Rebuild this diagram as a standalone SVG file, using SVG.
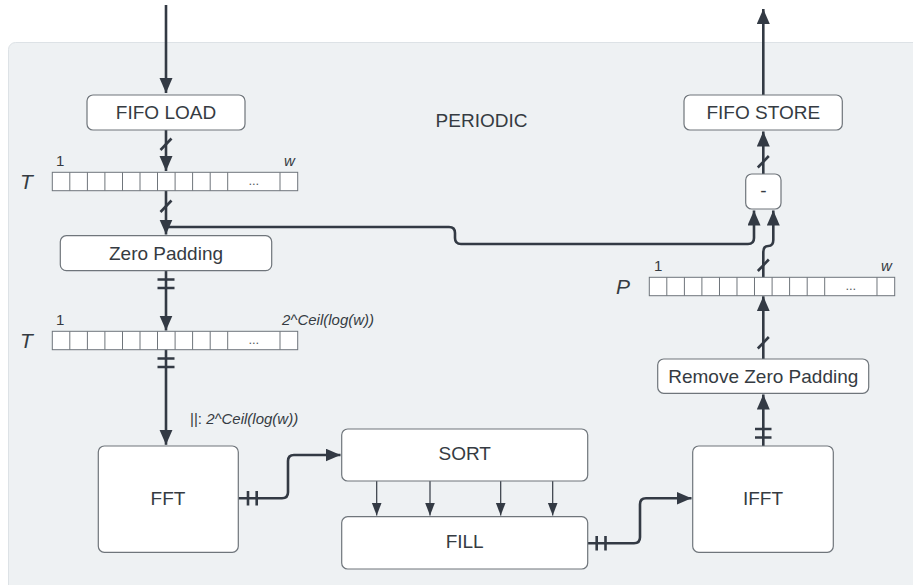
<svg xmlns="http://www.w3.org/2000/svg" width="913" height="585" viewBox="0 0 913 585">
<style>
.box{fill:#fff;stroke:#6f757b;stroke-width:1.2}
.lbl{font-family:"Liberation Sans",Arial,sans-serif;font-size:19px;fill:#353b42;text-anchor:middle;dominant-baseline:central}
.sm{font-family:"Liberation Sans",Arial,sans-serif;font-size:15px;fill:#353b42}
.it{font-style:italic}
.big{font-family:"Liberation Sans",Arial,sans-serif;font-size:21px;font-style:italic;fill:#353b42}
.con{fill:none;stroke:#333a44;stroke-width:2.6;stroke-linejoin:round}
.thin{fill:none;stroke:#333a44;stroke-width:1.2}
.tick{fill:none;stroke:#333a44;stroke-width:2.6}
.cell{fill:none;stroke:#6f757b;stroke-width:1}
</style>
<defs>
<marker id="ah" markerUnits="userSpaceOnUse" markerWidth="16" markerHeight="14" refX="15" refY="6.5" orient="auto">
<path d="M0,0 L15,6.5 L0,13 z" fill="#333a44"/>
</marker>
<marker id="ahs" markerUnits="userSpaceOnUse" markerWidth="13" markerHeight="11" refX="13" refY="5" orient="auto">
<path d="M0,0 L13,5 L0,10 z" fill="#333a44"/>
</marker>
<g id="arr">
<rect x="0" y="0" width="245.4" height="18.4" fill="#fff" stroke="#6f757b" stroke-width="1"/>
<path class="cell" d="M17.5,0V18.4M35.1,0V18.4M52.6,0V18.4M70.2,0V18.4M87.7,0V18.4M105.2,0V18.4M122.8,0V18.4M140.3,0V18.4M157.9,0V18.4M175.4,0V18.4M227.7,0V18.4"/>
<text x="201.5" y="13" font-family="'Liberation Sans',Arial,sans-serif" font-size="13" fill="#555b61" text-anchor="middle">...</text>
</g>
</defs>

<rect id="periodic-panel" x="8.5" y="42.5" width="930" height="570" rx="7" fill="#eef1f3" stroke="#dde2e6" stroke-width="1"/>
<text class="lbl" x="481.5" y="120">PERIODIC</text>

<g id="connectors">
<path class="con" d="M166,5 L166,93" marker-end="url(#ah)"/>
<path class="con" d="M166,130 L166,171" marker-end="url(#ah)"/>
<path class="con" d="M166,190.7 L166,234.5" marker-end="url(#ah)"/>
<path class="con" d="M166,227 L449,227 Q455,227 455,233 L455,238 Q455,244 461,244 L748,244 Q754,244 754,238 L754,210.5" marker-end="url(#ah)"/>
<path class="con" d="M166,270.7 L166,330.5" marker-end="url(#ah)"/>
<path class="con" d="M166,349.3 L166,444.8" marker-end="url(#ah)"/>
<path class="con" d="M238.3,498.3 L282,498.3 Q288,498.3 288,492.3 L288,461 Q288,455 294,455 L340.5,455" marker-end="url(#ah)"/>
<path class="thin" d="M376.7,481 L376.7,515.5" marker-end="url(#ahs)"/>
<path class="thin" d="M430,481 L430,515.5" marker-end="url(#ahs)"/>
<path class="thin" d="M500.7,481 L500.7,515.5" marker-end="url(#ahs)"/>
<path class="thin" d="M552.7,481 L552.7,515.5" marker-end="url(#ahs)"/>
<path class="con" d="M588,543.3 L634,543.3 Q640,543.3 640,537.3 L640,504.3 Q640,498.3 646,498.3 L691.5,498.3" marker-end="url(#ah)"/>
<path class="con" d="M763.3,446 L763.3,394.5" marker-end="url(#ah)"/>
<path class="con" d="M763.3,359 L763.3,296.3" marker-end="url(#ah)"/>
<path class="con" d="M763.3,277.3 L763.3,252 Q763.3,246 768.3,246 Q773.3,246 773.3,240 L773.3,210.5" marker-end="url(#ah)"/>
<path class="con" d="M763.3,174 L763.3,131.5" marker-end="url(#ah)"/>
<path class="con" d="M763.3,95 L763.3,9" marker-end="url(#ah)"/>
<path class="tick" d="M160.5,150 L171.5,138.5"/>
<path class="tick" d="M160.5,212 L171.5,200.5"/>
<path class="tick" d="M157.5,279.5 H174.5 M157.5,288 H174.5"/>
<path class="tick" d="M157.5,358.5 H174.5 M157.5,367 H174.5"/>
<path class="tick" d="M248,491 V505.5 M256.7,491 V505.5"/>
<path class="tick" d="M596.7,536 V550.5 M605.5,536 V550.5"/>
<path class="tick" d="M755,429 H771.5 M755,437.5 H771.5"/>
<path class="tick" d="M757.8,348.5 L768.8,337"/>
<path class="tick" d="M757.8,271 L768.8,259.5"/>
<path class="tick" d="M757.8,167.5 L768.8,156"/>
</g>

<g id="fifo-load"><rect class="box" x="87" y="95" width="158" height="35" rx="6"/><text class="lbl" x="166" y="112.5">FIFO LOAD</text></g>
<g id="array-t1"><use href="#arr" x="52.3" y="172.3"/><text class="sm" x="56" y="166">1</text><text class="sm it" x="284" y="166">w</text><text class="big" x="20" y="189">T</text></g>
<g id="zero-padding"><rect class="box" x="60.3" y="235.7" width="211.4" height="35" rx="6"/><text class="lbl" x="166" y="253">Zero Padding</text></g>
<g id="array-t2"><use href="#arr" x="52.3" y="331.3"/><text class="sm" x="56" y="325">1</text><text class="sm it" x="282" y="325">2^Ceil(log(w))</text><text class="big" x="20" y="348">T</text></g>
<text id="fft-label" class="sm" x="190" y="424"><tspan>||: </tspan><tspan class="it">2^Ceil(log(w))</tspan></text>
<g id="fft"><rect class="box" x="98.3" y="446" width="140" height="106.3" rx="6"/><text class="lbl" x="168" y="498">FFT</text></g>
<g id="sort"><rect class="box" x="341.7" y="429" width="246" height="52" rx="6"/><text class="lbl" x="464.7" y="453">SORT</text></g>
<g id="fill"><rect class="box" x="341.7" y="516.7" width="246" height="52.3" rx="6"/><text class="lbl" x="464.7" y="541">FILL</text></g>
<g id="ifft"><rect class="box" x="692.7" y="446" width="140.6" height="106.3" rx="6"/><text class="lbl" x="763" y="498">IFFT</text></g>
<g id="remove-zero-padding"><rect class="box" x="657.7" y="359" width="211" height="34.3" rx="6"/><text class="lbl" x="763.3" y="376">Remove Zero Padding</text></g>
<g id="array-p"><use href="#arr" x="649.3" y="277.3"/><text class="sm" x="654" y="271">1</text><text class="sm it" x="881" y="271">w</text><text class="big" x="616" y="294">P</text></g>
<g id="minus"><rect class="box" x="745.7" y="174" width="35.3" height="35" rx="6"/><text class="lbl" x="763.3" y="190">-</text></g>
<g id="fifo-store"><rect class="box" x="684" y="95" width="158.3" height="35" rx="6"/><text class="lbl" x="763.3" y="112.5">FIFO STORE</text></g>
</svg>
